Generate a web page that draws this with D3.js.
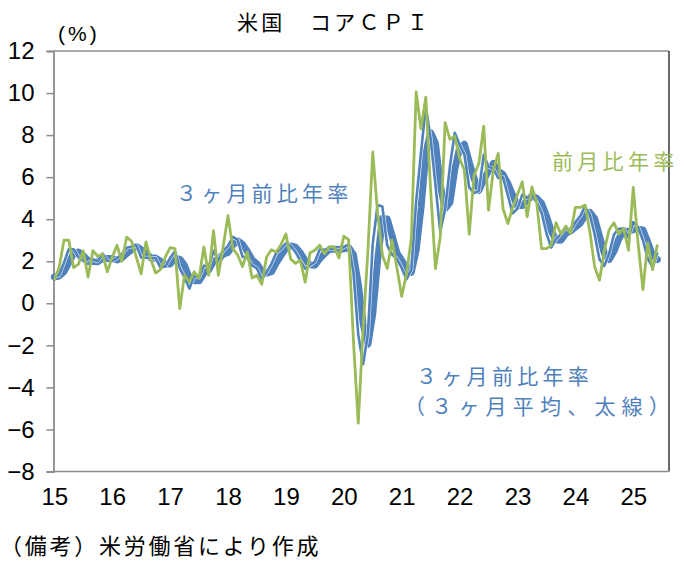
<!DOCTYPE html>
<html>
<head>
<meta charset="utf-8">
<script src="https://cdn.jsdelivr.net/npm/d3@7/dist/d3.min.js"></script>
<style>
  html, body { margin: 0; padding: 0; background: #ffffff; }
  svg { display: block; }
  .num { font-family: "Liberation Sans Narrow", "Arial Narrow", "Liberation Sans", sans-serif; font-stretch: condensed; }
  .jp { font-family: "Noto Sans CJK JP", "Noto Sans", sans-serif; }
</style>
</head>
<body>
<svg id="chart" width="685" height="567"></svg>
<script>
// ---- data (Jan 2015 .. Jun 2025, monthly) ----
const yearLabels = ["15","16","17","18","19","20","21","22","23","24","25"];
const yTicks = [-8,-6,-4,-2,0,2,4,6,8,10,12];

// 前月比年率 (green)
const momAnnualized = [
  1.1, 1.7, 3.0, 3.0, 1.7, 1.86, 2.5, 1.25, 2.5, 2.24, 2.33, 1.5,
  2.2, 2.76, 2.0, 3.15, 2.95, 2.2, 1.4, 2.92, 2.1, 1.44, 1.6, 2.2,
  2.65, 2.6, -0.25, 1.35, 1.0, 1.5, 1.2, 2.68, 1.33, 3.45, 1.33, 2.7,
  4.17, 2.6, 2.3, 1.75, 2.44, 1.2, 1.33, 0.9, 2.2, 2.55, 2.44, 2.8,
  3.3, 2.1, 1.9, 2.05, 1.0, 2.4, 2.52, 2.76, 2.36, 2.68, 2.68, 2.16,
  3.19, 3.03, -1.8, -5.7, -1.2, 2.5, 7.2, 4.3, 2.3, 1.65, 3.0, 1.7,
  0.33, 1.4, 3.1, 10.05, 8.3, 9.8, 5.4, 1.65, 3.16, 8.59, 7.8, 7.95,
  6.9, 6.33, 3.29, 6.1, 6.65, 8.43, 4.43, 6.33, 7.13, 4.51, 3.79, 4.55,
  5.18, 5.78, 4.11, 5.54, 4.78, 2.6, 2.6, 2.76, 3.83, 3.29, 3.67, 3.32,
  4.56, 4.56, 4.67, 3.4, 1.73, 1.1, 2.52, 3.5, 3.83, 3.29, 3.56, 2.52,
  5.51, 2.84, 0.65, 2.87, 1.6, 2.8
];

// ３ヶ月前比年率 (thin blue)
const threeMonthAnnualized = [
  1.27, 1.33, 1.93, 2.57, 2.57, 2.19, 2.02, 1.87, 2.08, 2.0, 2.36, 2.02,
  2.01, 2.15, 2.32, 2.64, 2.7, 2.77, 2.18, 2.17, 2.14, 2.15, 1.71, 1.75,
  2.15, 2.48, 1.67, 1.23, 0.7, 1.28, 1.23, 1.79, 1.74, 2.49, 2.04, 2.49,
  2.73, 3.16, 3.02, 2.22, 2.16, 1.8, 1.66, 1.14, 1.48, 1.88, 2.4, 2.6,
  2.85, 2.73, 2.43, 2.02, 1.65, 1.82, 1.97, 2.56, 2.55, 2.6, 2.57, 2.51,
  2.68, 2.79, 1.47, -1.49, -2.9, -1.47, 2.83, 4.67, 4.6, 2.75, 2.32, 2.12,
  1.68, 1.14, 1.61, 4.85, 7.15, 9.38, 7.83, 5.62, 3.4, 4.47, 6.52, 8.11,
  7.55, 7.06, 5.51, 5.24, 5.35, 7.06, 6.5, 6.4, 5.96, 5.99, 5.14, 4.28,
  4.51, 5.17, 5.02, 5.14, 4.81, 4.31, 3.33, 2.65, 3.06, 3.29, 3.6, 3.43,
  3.85, 4.15, 4.6, 4.21, 3.27, 2.08, 1.78, 2.37, 3.28, 3.54, 3.56, 3.12,
  3.86, 3.62, 3.0, 2.12, 1.71, 2.42
];

// ３ヶ月前比年率（３ヶ月平均、太線）
const threeMonthAvg = [
  1.25, 1.3, 1.51, 1.94, 2.36, 2.44, 2.26, 2.03, 1.99, 1.98, 2.15, 2.13,
  2.13, 2.06, 2.16, 2.37, 2.55, 2.7, 2.55, 2.37, 2.16, 2.15, 2.0, 1.87,
  1.87, 2.13, 2.1, 1.79, 1.2, 1.07, 1.07, 1.43, 1.59, 2.01, 2.09, 2.34,
  2.42, 2.79, 2.97, 2.8, 2.47, 2.06, 1.87, 1.53, 1.43, 1.5, 1.92, 2.29,
  2.62, 2.73, 2.67, 2.39, 2.03, 1.83, 1.81, 2.12, 2.36, 2.57, 2.57, 2.56,
  2.59, 2.66, 2.31, 0.92, -0.97, -1.95, -0.51, 2.01, 4.03, 4.01, 3.22, 2.4,
  2.04, 1.65, 1.48, 2.53, 4.54, 7.13, 8.12, 7.61, 5.62, 4.5, 4.8, 6.37,
  7.39, 7.57, 6.71, 5.94, 5.37, 5.88, 6.3, 6.65, 6.29, 6.12, 5.7, 5.14,
  4.64, 4.65, 4.9, 5.11, 4.99, 4.75, 4.15, 3.43, 3.01, 3.0, 3.32, 3.44,
  3.63, 3.81, 4.2, 4.32, 4.03, 3.19, 2.38, 2.08, 2.48, 3.06, 3.46, 3.41,
  3.51, 3.53, 3.49, 2.91, 2.28, 2.08
];

// ---- styling ----
const BLUE = "#4F81BD";
const GREEN = "#9BBB59";
const AXIS = "#8C8C8C";

const svg = d3.select("#chart");
svg.append("rect").attr("width", 685).attr("height", 567).attr("fill", "#fff");

const plot = { left: 53.5, right: 669, top: 51, bottom: 471.5 };

const x = d3.scaleLinear()
  .domain([0, momAnnualized.length - 1])
  .range([54.3, 657.4]);
const y = d3.scaleLinear()
  .domain([-8, 12])
  .range([plot.bottom, plot.top]);

// plot frame: top gray; right dark
svg.append("line").attr("x1", plot.left).attr("x2", plot.right)
  .attr("y1", plot.top).attr("y2", plot.top)
  .attr("stroke", AXIS).attr("stroke-width", 1.3);
svg.append("line").attr("x1", plot.right).attr("x2", plot.right)
  .attr("y1", plot.top).attr("y2", plot.bottom)
  .attr("stroke", "#1a1a1a").attr("stroke-width", 1.3);

// y axis
const yAxis = svg.append("g")
  .attr("transform", `translate(${plot.left},0)`)
  .call(d3.axisLeft(y).tickValues(yTicks).tickSize(7).tickPadding(12).tickFormat(d3.format("d")));
yAxis.select(".domain").attr("stroke", AXIS).attr("stroke-width", 1.8);
yAxis.selectAll(".tick line").attr("stroke", AXIS).attr("stroke-width", 1.5);
yAxis.selectAll(".tick text").attr("class", "num").attr("font-size", 24).attr("fill", "#000");

// x axis (bottom)
const xAxis = svg.append("g")
  .attr("transform", `translate(0,${plot.bottom})`)
  .call(d3.axisBottom(x)
    .tickValues(yearLabels.map((d, i) => i * 12))
    .tickSize(0).tickPadding(16)
    .tickFormat((d, i) => yearLabels[i]));
xAxis.select(".domain").remove();
xAxis.selectAll(".tick text").attr("class", "num").attr("font-size", 24).attr("fill", "#000");
svg.append("line").attr("x1", plot.left).attr("x2", plot.right)
  .attr("y1", plot.bottom).attr("y2", plot.bottom)
  .attr("stroke", AXIS).attr("stroke-width", 1.5);

// lines
const line = d3.line().x((d, i) => x(i)).y(d => y(d));

svg.append("path").datum(threeMonthAvg)
  .attr("d", line).attr("fill", "none")
  .attr("stroke", BLUE).attr("stroke-width", 7)
  .attr("stroke-linejoin", "round").attr("stroke-linecap", "round");

svg.append("path").datum(threeMonthAnnualized)
  .attr("d", line).attr("fill", "none")
  .attr("stroke", "#ffffff").attr("stroke-opacity", 0.75).attr("stroke-width", 4)
  .attr("stroke-linejoin", "round");
svg.append("path").datum(threeMonthAnnualized)
  .attr("d", line).attr("fill", "none")
  .attr("stroke", BLUE).attr("stroke-width", 2.6)
  .attr("stroke-linejoin", "round");

svg.append("path").datum(momAnnualized)
  .attr("d", line).attr("fill", "none")
  .attr("stroke", GREEN).attr("stroke-width", 2.8)
  .attr("stroke-linejoin", "round");

// texts
function jp(txt, xx, yy, opts) {
  return svg.append("text").attr("class", "jp")
    .attr("x", xx).attr("y", yy)
    .attr("font-size", opts.size || 20)
    .attr("fill", opts.color || "#000")
    .attr("letter-spacing", opts.ls || 0)
    .attr("text-anchor", opts.anchor || "start")
    .text(txt);
}

jp("米国　コアＣＰＩ", 237, 30, { size: 21, ls: 3.3 });
svg.append("text").attr("class", "num").attr("x", 58).attr("y", 41)
  .attr("font-size", 21).attr("letter-spacing", 3).text("(%)");

jp("３ヶ月前比年率", 176, 201, { size: 21, ls: 4.2, color: BLUE });
jp("前月比年率", 552, 169, { size: 21, ls: 4.3, color: GREEN });
jp("３ヶ月前比年率", 416, 384, { size: 21, ls: 4.3, color: BLUE });
jp("（３ヶ月平均、太線）", 404, 414, { size: 21, ls: 6.2, color: BLUE });

jp("（備考）米労働省により作成", 0, 554, { size: 22, ls: 2.75 });
</script>
</body>
</html>
